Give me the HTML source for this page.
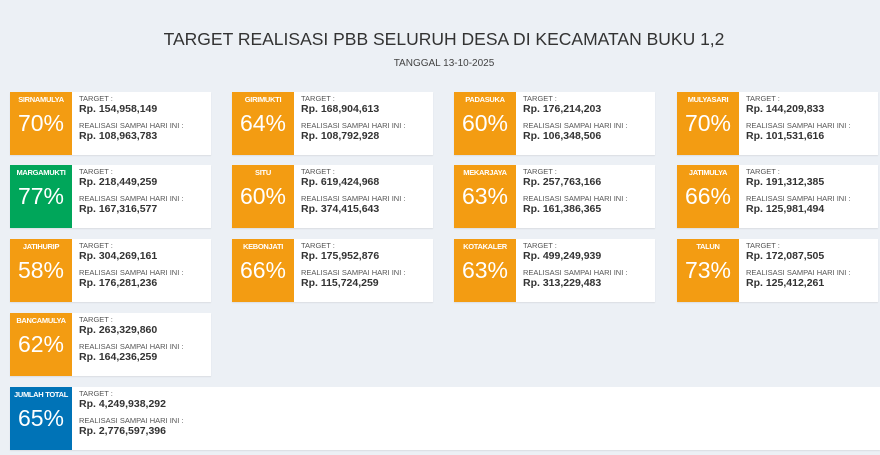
<!DOCTYPE html>
<html><head><style>
body{margin:0;width:880px;height:455px;background:#ecf0f5;font-family:"Liberation Sans",sans-serif;position:relative;overflow:hidden}
.t{position:absolute;top:29px;left:0;width:888px;text-align:center;font-size:17.5px;color:#333}
.d{position:absolute;top:58px;left:0;width:888px;text-align:center;font-size:10px;color:#444}
.c{position:absolute;width:201px;height:63px;background:#fff;box-shadow:0 1px 1px rgba(0,0,0,.08)}
.b{position:absolute;left:0;top:0;width:62px;height:63px;background:#f39c12;color:#fff;text-align:center}
.b .n{font-size:7.5px;font-weight:bold;margin-top:3px;white-space:nowrap;letter-spacing:-.3px}
.b .p{font-size:23px;margin-top:6px}
.i{position:absolute;left:69px;top:2px;color:#333}
.l{font-size:7.5px;color:#555;line-height:9px}
.v{font-size:10.5px;font-weight:bold;line-height:12px;margin-bottom:6px}
</style></head><body>
<div class="t">TARGET REALISASI PBB SELURUH DESA DI KECAMATAN BUKU 1,2</div>
<div class="d">TANGGAL 13-10-2025</div>

<div class="c" style="left:10px;top:92px"><div class="b"><div class="n">SIRNAMULYA</div><div class="p">70%</div></div><div class="i"><div class="l">TARGET :</div><div class="v">Rp. 154,958,149</div><div class="l">REALISASI SAMPAI HARI INI :</div><div class="v">Rp. 108,963,783</div></div></div>
<div class="c" style="left:232px;top:92px"><div class="b"><div class="n">GIRIMUKTI</div><div class="p">64%</div></div><div class="i"><div class="l">TARGET :</div><div class="v">Rp. 168,904,613</div><div class="l">REALISASI SAMPAI HARI INI :</div><div class="v">Rp. 108,792,928</div></div></div>
<div class="c" style="left:454px;top:92px"><div class="b"><div class="n">PADASUKA</div><div class="p">60%</div></div><div class="i"><div class="l">TARGET :</div><div class="v">Rp. 176,214,203</div><div class="l">REALISASI SAMPAI HARI INI :</div><div class="v">Rp. 106,348,506</div></div></div>
<div class="c" style="left:677px;top:92px"><div class="b"><div class="n">MULYASARI</div><div class="p">70%</div></div><div class="i"><div class="l">TARGET :</div><div class="v">Rp. 144,209,833</div><div class="l">REALISASI SAMPAI HARI INI :</div><div class="v">Rp. 101,531,616</div></div></div>

<div class="c" style="left:10px;top:165px"><div class="b" style="background:#00a65a"><div class="n">MARGAMUKTI</div><div class="p">77%</div></div><div class="i"><div class="l">TARGET :</div><div class="v">Rp. 218,449,259</div><div class="l">REALISASI SAMPAI HARI INI :</div><div class="v">Rp. 167,316,577</div></div></div>
<div class="c" style="left:232px;top:165px"><div class="b"><div class="n">SITU</div><div class="p">60%</div></div><div class="i"><div class="l">TARGET :</div><div class="v">Rp. 619,424,968</div><div class="l">REALISASI SAMPAI HARI INI :</div><div class="v">Rp. 374,415,643</div></div></div>
<div class="c" style="left:454px;top:165px"><div class="b"><div class="n">MEKARJAYA</div><div class="p">63%</div></div><div class="i"><div class="l">TARGET :</div><div class="v">Rp. 257,763,166</div><div class="l">REALISASI SAMPAI HARI INI :</div><div class="v">Rp. 161,386,365</div></div></div>
<div class="c" style="left:677px;top:165px"><div class="b"><div class="n">JATIMULYA</div><div class="p">66%</div></div><div class="i"><div class="l">TARGET :</div><div class="v">Rp. 191,312,385</div><div class="l">REALISASI SAMPAI HARI INI :</div><div class="v">Rp. 125,981,494</div></div></div>

<div class="c" style="left:10px;top:239px"><div class="b"><div class="n">JATIHURIP</div><div class="p">58%</div></div><div class="i"><div class="l">TARGET :</div><div class="v">Rp. 304,269,161</div><div class="l">REALISASI SAMPAI HARI INI :</div><div class="v">Rp. 176,281,236</div></div></div>
<div class="c" style="left:232px;top:239px"><div class="b"><div class="n">KEBONJATI</div><div class="p">66%</div></div><div class="i"><div class="l">TARGET :</div><div class="v">Rp. 175,952,876</div><div class="l">REALISASI SAMPAI HARI INI :</div><div class="v">Rp. 115,724,259</div></div></div>
<div class="c" style="left:454px;top:239px"><div class="b"><div class="n">KOTAKALER</div><div class="p">63%</div></div><div class="i"><div class="l">TARGET :</div><div class="v">Rp. 499,249,939</div><div class="l">REALISASI SAMPAI HARI INI :</div><div class="v">Rp. 313,229,483</div></div></div>
<div class="c" style="left:677px;top:239px"><div class="b"><div class="n">TALUN</div><div class="p">73%</div></div><div class="i"><div class="l">TARGET :</div><div class="v">Rp. 172,087,505</div><div class="l">REALISASI SAMPAI HARI INI :</div><div class="v">Rp. 125,412,261</div></div></div>

<div class="c" style="left:10px;top:313px"><div class="b"><div class="n">BANCAMULYA</div><div class="p">62%</div></div><div class="i"><div class="l">TARGET :</div><div class="v">Rp. 263,329,860</div><div class="l">REALISASI SAMPAI HARI INI :</div><div class="v">Rp. 164,236,259</div></div></div>

<div class="c" style="left:10px;top:387px;width:870px"><div class="b" style="background:#0073b7"><div class="n">JUMLAH TOTAL</div><div class="p">65%</div></div><div class="i"><div class="l">TARGET :</div><div class="v">Rp. 4,249,938,292</div><div class="l">REALISASI SAMPAI HARI INI :</div><div class="v">Rp. 2,776,597,396</div></div></div>
</body></html>
